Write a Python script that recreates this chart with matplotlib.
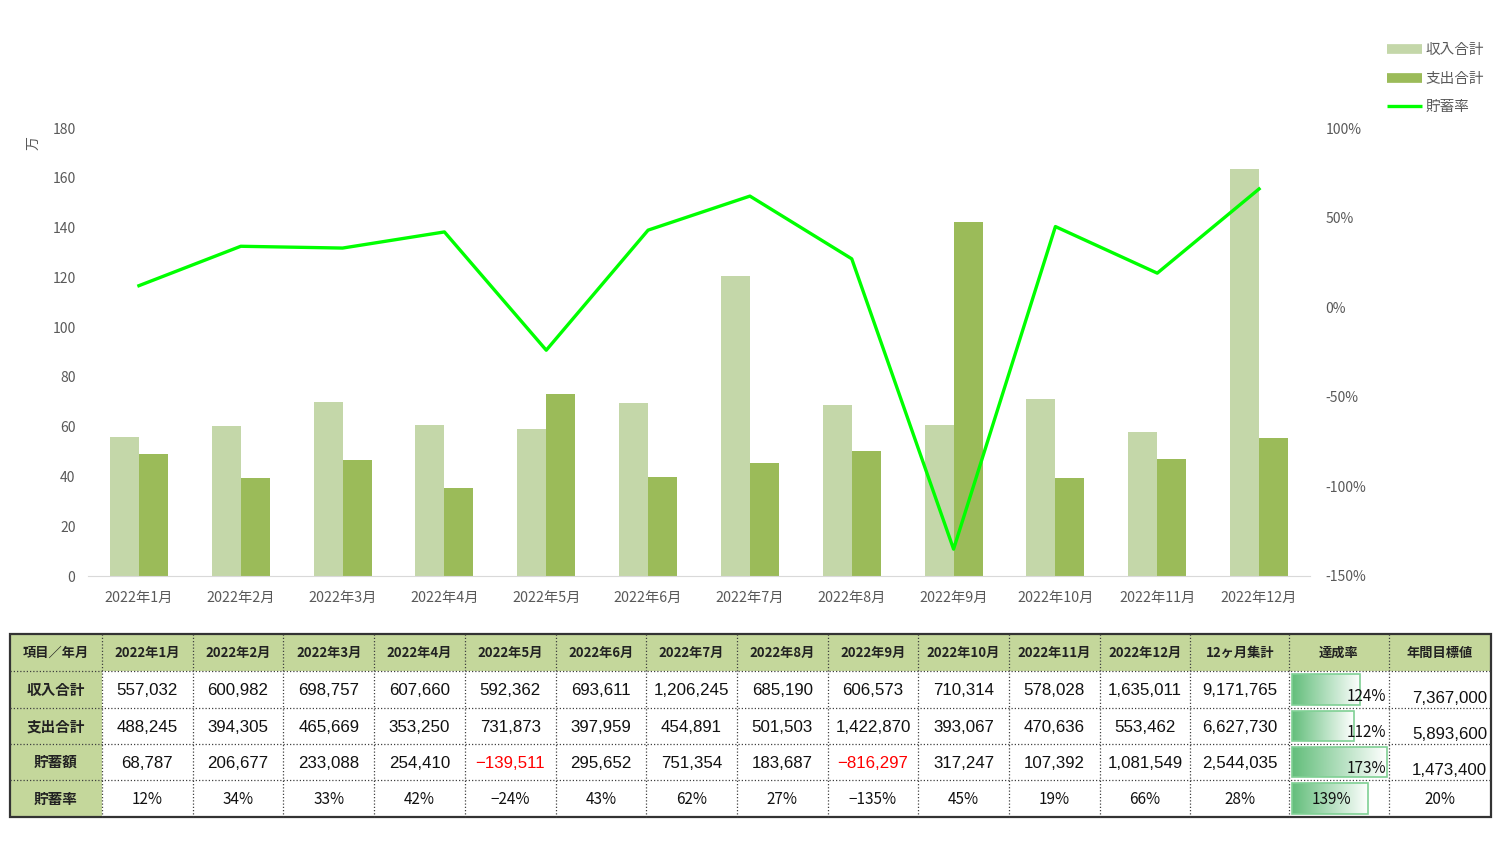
import numpy as np
import matplotlib
matplotlib.use("Agg")
import matplotlib.pyplot as plt
from matplotlib.lines import Line2D
from matplotlib.patches import Rectangle

plt.rcParams['font.family'] = ['Noto Sans CJK JP', 'DejaVu Sans']

months = [f"2022年{m}月" for m in range(1, 13)]
income = [557032, 600982, 698757, 607660, 592362, 693611,
          1206245, 685190, 606573, 710314, 578028, 1635011]
expense = [488245, 394305, 465669, 353250, 731873, 397959,
           454891, 501503, 1422870, 393067, 470636, 553462]
savings = [68787, 206677, 233088, 254410, -139511, 295652,
           751354, 183687, -816297, 317247, 107392, 1081549]
rate = [12, 34, 33, 42, -24, 43, 62, 27, -135, 45, 19, 66]

row_labels = ["収入合計", "支出合計", "貯蓄額", "貯蓄率"]
totals = ["9,171,765", "6,627,730", "2,544,035", "28%"]
achieve = [124, 112, 173, 139]
targets = ["7,367,000", "5,893,600", "1,473,400", "20%"]
headers = ["項目／年月"] + months + ["12ヶ月集計", "達成率", "年間目標値"]

C_INC = "#c4d7a9"
C_EXP = "#9bbb59"
C_LINE = "#00ff00"
C_TXT = "#595959"
C_HEAD = "#c4d79b"

W, H = 1500, 843
fig = plt.figure(figsize=(W / 100, H / 100), dpi=100)

# ---- chart ----
ax = fig.add_axes([88 / W, 1 - 576 / H, (1310 - 88) / W, (576 - 128) / H])
x = np.arange(len(months))
bw = 0.285
ax.bar(x - bw / 2, np.array(income) / 1e4, bw, color=C_INC, zorder=2)
ax.bar(x + bw / 2, np.array(expense) / 1e4, bw, color=C_EXP, zorder=2)
ax.set_xlim(-0.5, len(months) - 0.5)
ax.set_ylim(0, 180)
ax.set_yticks(np.arange(0, 181, 20))
ax.set_xticks(x)
ax.set_xticklabels(months)
ax.tick_params(axis='both', length=0, colors=C_TXT, labelsize=10)
ax.tick_params(axis='y', pad=9)
ax.tick_params(axis='x', pad=11, labelsize=10.3)
for s in ["top", "right", "left"]:
    ax.spines[s].set_visible(False)
ax.spines["bottom"].set_color("#d9d9d9")

ax2 = ax.twinx()
ax2.plot(x, np.array(rate) / 100, color=C_LINE, lw=2.4, zorder=3)
ax2.set_ylim(-1.5, 1.0)
ticks2 = np.arange(-1.5, 1.01, 0.5)
ax2.set_yticks(ticks2)
ax2.set_yticklabels([f"{int(round(v * 100))}%" for v in ticks2])
ax2.tick_params(axis='y', length=0, colors=C_TXT, labelsize=10, pad=11)
for s in ["top", "right", "left", "bottom"]:
    ax2.spines[s].set_visible(False)

fig.text(33 / W, 1 - 143 / H, "万", rotation=90, ha="center", va="center",
         fontsize=10, color=C_TXT)

handles = [Line2D([], [], color=C_INC, lw=7, solid_capstyle="butt"),
           Line2D([], [], color=C_EXP, lw=7, solid_capstyle="butt"),
           Line2D([], [], color=C_LINE, lw=2.4, solid_capstyle="butt")]
fig.legend(handles, ["収入合計", "支出合計", "貯蓄率"], loc="upper right",
           bbox_to_anchor=(1497 / W, 1 - 30 / H), frameon=False, fontsize=10.5,
           labelcolor=C_TXT, handlelength=2.4, handletextpad=0.25,
           labelspacing=1.0)

# ---- table ----
tb = fig.add_axes([0, 0, 1, 1], zorder=-1)
tb.set_xlim(0, W)
tb.set_ylim(H, 0)
tb.axis("off")

xe = [10, 102] + [102 + 90.7 * k for k in range(1, 13)] + [1289, 1389, 1491]
ye = [634, 671, 708, 744, 780, 817]

tb.add_patch(Rectangle((xe[0], ye[0]), xe[-1] - xe[0], ye[1] - ye[0],
                       color=C_HEAD, lw=0))
tb.add_patch(Rectangle((xe[0], ye[0]), xe[1] - xe[0], ye[-1] - ye[0],
                       color=C_HEAD, lw=0))
dot = dict(color="#404040", lw=0.9, ls=(0, (1, 1.6)))
for xv in xe[1:-1]:
    tb.plot([xv, xv], [ye[0], ye[-1]], **dot)
for yv in ye[1:-1]:
    tb.plot([xe[0], xe[-1]], [yv, yv], **dot)
tb.add_patch(Rectangle((xe[0], ye[0]), xe[-1] - xe[0], ye[-1] - ye[0],
                       fill=False, ec="#333333", lw=1.6))

def cx(i):
    return (xe[i] + xe[i + 1]) / 2

def cy(j):
    return (ye[j] + ye[j + 1]) / 2

for i, h in enumerate(headers):
    tb.text(cx(i), cy(0), h, ha="center", va="center", fontsize=9.5,
            fontweight="bold", color="#222222")
for j, lab in enumerate(row_labels):
    tb.text(cx(0), cy(j + 1), lab, ha="center", va="center", fontsize=10.5,
            fontweight="bold", color="#222222")

num_font = ['Liberation Sans', 'Noto Sans CJK JP']
rows = [income, expense, savings]
for j, vals in enumerate(rows):
    for i, v in enumerate(vals):
        s = f"{v:,}".replace("-", "−")
        tb.text(cx(i + 1), cy(j + 1) + 1, s, ha="center", va="center",
                fontsize=12.2, family=num_font,
                color="#ff0000" if v < 0 else "#111111")
for i, v in enumerate(rate):
    tb.text(cx(i + 1), cy(4) + 1, f"{v}%".replace("-", "−"), ha="center",
            va="center", fontsize=11, color="#111111")

for j, s in enumerate(totals):
    if s.endswith("%"):
        tb.text(cx(13), cy(j + 1) + 1, s, ha="center", va="center",
                fontsize=11, color="#111111")
    else:
        tb.text(cx(13), cy(j + 1) + 1, s, ha="center", va="center",
                fontsize=12.2, family=num_font, color="#111111")

# data bars in 達成率 column
grad = np.linspace(0, 1, 256).reshape(1, -1)
cmap = matplotlib.colors.LinearSegmentedColormap.from_list(
    "db", ["#63be7b", "#ffffff"])
x0 = xe[14] + 3
full = xe[15] - xe[14] - 5
vmax = max(achieve)
for j, v in enumerate(achieve):
    w = full * v / vmax
    y0, y1 = ye[j + 1] + 3, ye[j + 2] - 3
    tb.imshow(grad, cmap=cmap, extent=(x0, x0 + w, y1, y0), aspect="auto",
              zorder=2)
    tb.add_patch(Rectangle((x0, y0), w, y1 - y0, fill=False, ec="#7fd094",
                           lw=1.2, zorder=3))
    if j < 3:
        tb.text(xe[15] - 3, ye[j + 2] - 3, f"{v}%", ha="right", va="bottom",
                fontsize=11, color="#111111", zorder=4)
    else:
        tb.text(cx(14) - 8, cy(j + 1) + 1, f"{v}%", ha="center", va="center",
                fontsize=11, color="#111111", zorder=4)
tb.set_xlim(0, W)
tb.set_ylim(H, 0)

for j, s in enumerate(targets):
    if s.endswith("%"):
        tb.text(cx(15), cy(j + 1) + 1, s, ha="center", va="center",
                fontsize=11, color="#111111")
    else:
        tb.text(xe[16] - 4, ye[j + 2] - 2, s, ha="right", va="bottom",
                fontsize=12.2, family=num_font, color="#111111")

fig.savefig("out.png", dpi=100)
